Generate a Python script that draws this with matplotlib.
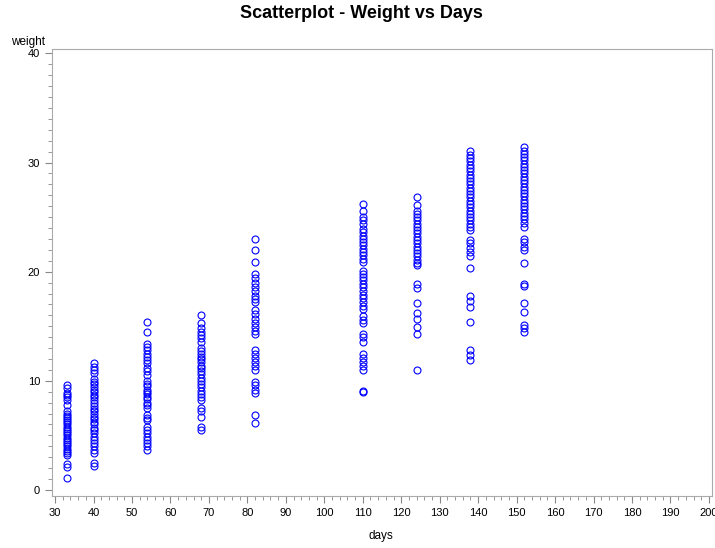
import numpy as np
import matplotlib
matplotlib.use("Agg")
import matplotlib.pyplot as plt
from matplotlib.ticker import MultipleLocator

plt.rcParams["font.family"] = ["Liberation Sans", "DejaVu Sans"]

days = [33, 40, 54, 68, 82, 110, 124, 138, 152]
w33 = [9.6, 9.3, 8.9, 8.7, 8.5, 8.2, 7.8, 7.2, 7.0, 6.8, 6.6, 6.4, 6.2, 6.0, 5.8,
       5.6, 5.4, 5.2, 5.0, 4.8, 4.6, 4.4, 4.2, 4.0, 3.8, 3.6, 3.4, 3.2, 2.4, 2.1, 1.1]
w40 = [11.6, 11.3, 11.0, 10.7, 10.2, 9.9, 9.7, 9.4, 9.2, 9.0, 8.7, 8.5, 8.2, 8.0,
       7.7, 7.4, 7.2, 7.0, 6.7, 6.5, 6.2, 6.0, 5.7, 5.5, 5.2, 4.9, 4.6, 4.3, 4.0,
       3.7, 3.4, 2.5, 2.2]
w54 = [15.4, 14.5, 13.4, 13.1, 12.8, 12.5, 12.2, 11.9, 11.6, 11.2, 10.9, 10.5, 10.0,
       9.7, 9.5, 9.2, 9.0, 8.8, 8.5, 8.3, 8.0, 7.8, 7.5, 6.9, 6.6, 6.4, 5.8, 5.5,
       5.2, 4.9, 4.6, 4.3, 4.0, 3.7]
w68 = [16.0, 15.3, 14.8, 14.5, 14.2, 13.9, 13.6, 13.0, 12.7, 12.5, 12.2, 12.0, 11.7,
       11.4, 11.2, 10.9, 10.6, 10.3, 10.0, 9.7, 9.4, 9.1, 8.8, 8.5, 8.2, 7.5, 7.2,
       6.7, 5.8, 5.5]
w82 = [23.0, 22.0, 20.9, 19.8, 19.4, 19.0, 18.6, 18.2, 17.8, 17.5, 17.2, 16.5, 16.1,
       15.7, 15.3, 14.9, 14.6, 14.3, 12.8, 12.5, 12.1, 11.7, 11.4, 11.0, 9.9, 9.6,
       9.2, 8.9, 6.9, 6.1]
w110 = [26.2, 25.6, 25.0, 24.7, 24.4, 23.9, 23.6, 23.3, 23.0, 22.7, 22.4, 22.1, 21.8,
        21.5, 21.2, 20.9, 20.1, 19.8, 19.5, 19.2, 18.9, 18.6, 18.2, 17.9, 17.6, 17.2,
        16.9, 16.6, 15.9, 15.6, 15.3, 14.3, 14.0, 13.6, 12.5, 12.1, 11.7, 11.4, 11.0,
        9.1, 9.0]
w124 = [26.8, 26.1, 25.6, 25.3, 25.0, 24.7, 24.4, 24.1, 23.8, 23.5, 23.2, 22.9, 22.6,
        22.3, 22.0, 21.7, 21.4, 21.1, 20.8, 20.6, 18.9, 18.5, 17.1, 16.2, 15.7, 14.9,
        14.3, 11.0]
w138 = [31.1, 30.7, 30.4, 30.1, 29.8, 29.5, 29.2, 28.9, 28.6, 28.3, 28.0, 27.7, 27.4,
        27.1, 26.8, 26.5, 26.2, 25.9, 25.6, 25.3, 25.0, 24.7, 24.4, 24.1, 23.8, 22.9,
        22.6, 22.2, 21.8, 21.4, 20.3, 17.8, 17.3, 16.8, 15.4, 12.8, 12.4, 11.9]
w152 = [31.4, 31.1, 30.8, 30.5, 30.2, 29.9, 29.6, 29.3, 29.0, 28.7, 28.4, 28.1, 27.8,
        27.5, 27.2, 26.9, 26.6, 26.3, 26.0, 25.7, 25.4, 25.1, 24.8, 24.5, 24.1, 23.0,
        22.7, 22.3, 22.0, 20.75, 18.9, 18.7, 17.1, 16.3, 15.1, 14.8, 14.5]
weights = [w33, w40, w54, w68, w82, w110, w124, w138, w152]

x_ticks = list(range(30, 201, 10))
y_ticks = [0, 10, 20, 30, 40]

fig = plt.figure(figsize=(7.15, 5.48), dpi=100)
ax = fig.add_axes([0.0727, 0.0949, 0.9231, 0.8157])

for d, ws in zip(days, weights):
    ax.plot([d] * len(ws), ws, linestyle="none", marker="o", markersize=5,
            markerfacecolor="none", markeredgecolor="#0000ff", markeredgewidth=0.8)

ax.set_xlim(29.2, 200.8)
ax.set_ylim(-0.55, 40.4)
ax.set_xticks(x_ticks)
ax.set_yticks(y_ticks)
ax.xaxis.set_minor_locator(MultipleLocator(2))
ax.yaxis.set_minor_locator(MultipleLocator(1))
ax.tick_params(which="both", direction="out", colors="#888888", labelcolor="black",
               labelsize=8)
ax.tick_params(which="major", length=5)
ax.tick_params(which="minor", length=3)

for s in ax.spines.values():
    s.set_color("#aaaaaa")
    s.set_linewidth(0.8)

fig.text(0.506, 0.975, "Scatterplot - Weight vs Days", ha="center", va="center",
         fontsize=13, fontweight="bold")
fig.text(0.0154, 0.923, "weight", ha="left", va="center", fontsize=8.5)
fig.text(0.532, 0.022, "days", ha="center", va="center", fontsize=8.5)

fig.savefig("out.png", dpi=100)
plt.close(fig)
